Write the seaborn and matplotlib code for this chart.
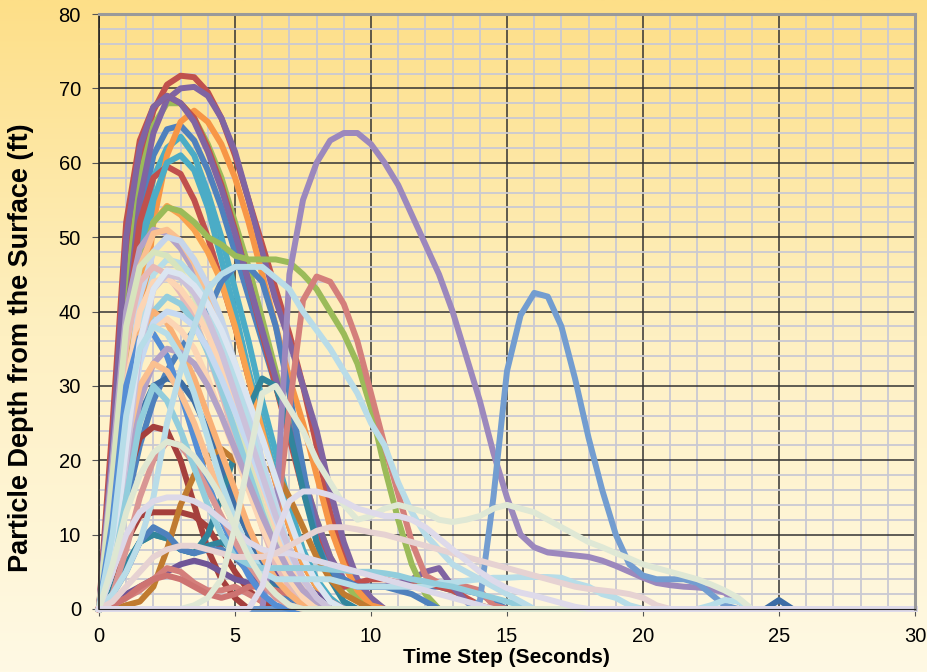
import numpy as np
import pandas as pd
import matplotlib
matplotlib.use('Agg')
import matplotlib.pyplot as plt
import seaborn as sns
from matplotlib.colors import LinearSegmentedColormap

# time steps, half a second apart
time_step = np.arange(0, 30.5, 0.5)

# particle depth (ft) at each time step; series end at 0
blue_65 = [0, 12, 35, 52, 61, 64.5, 65, 63, 59, 54, 48, 42, 36, 30, 24, 17, 11, 6, 3, 3, 3, 3, 3, 3, 3, 3, 2.5, 2.5, 2, 1, 0]
red_72 = [0, 20, 45, 60, 67, 70.5, 71.7, 71.5, 69.5, 66, 61, 55, 49, 43, 37, 30, 22, 13, 7, 3, 1, 0]
green_68 = [0, 18, 42, 58, 65, 68, 68, 66, 62.5, 58, 52, 46, 39, 32, 25, 18, 12, 7, 3.5, 1.5, 0]
purple_70 = [0, 15, 38, 55, 64, 68.5, 70, 70.2, 69, 66, 61.5, 55, 48, 41.5, 36, 30, 24, 16, 9, 4, 1.5, 0]
aqua_63 = [0, 10, 30, 48, 58, 62, 63.5, 61, 56, 50, 43, 36, 28, 21, 14, 8, 4, 1.5, 0]
orange_67 = [0, 5, 18, 35, 52, 61, 65.5, 67, 65.5, 62.5, 58, 52, 45, 38, 31, 25, 18, 11, 6, 2.5, 0.5, 0]
red_69 = [0, 25, 52, 63, 67.5, 69, 68, 66, 62, 57, 51, 44, 37, 30, 23, 16, 10, 5, 3, 3.5, 4, 4, 3.5, 3.5, 3.5, 3, 2.5, 1.5, 0.5, 0]
purple_69 = [0, 22, 50, 62, 67.5, 69, 68, 65.5, 61.5, 56.5, 50.5, 44, 37.5, 31, 24.5, 18, 12, 7, 4, 3, 3, 3, 3.5, 4, 5, 5.5, 3, 1, 0]
red_60 = [0, 15, 38, 52, 58, 59.5, 58.5, 55, 50, 44, 38, 31, 24, 17, 11, 6, 3, 1, 0]
aqua_61 = [0, 8, 26, 44, 55, 60, 61, 59, 54, 47, 40, 32, 25, 18, 12, 7, 3, 1, 0]
orange_54 = [0, 10, 28, 44, 52, 54.2, 53, 51, 48, 44, 38, 31, 24, 17, 11, 6, 3, 1, 0]
green_47 = [0, 15, 35, 46, 52, 54, 53.5, 52, 50, 49, 47.5, 47, 47, 47, 46.6, 45, 43, 40, 37, 33, 27, 19, 12, 6, 2, 0]
blue_46 = [0, 5, 14, 22, 28, 32, 35, 37.5, 40, 44, 46, 46, 44, 38, 29, 19, 9, 5, 4, 3, 3, 3, 2.5, 2, 1, 0]
steel_31 = [0, 8, 18, 26, 30, 31, 30.5, 28, 24, 19, 14, 10, 6, 3, 1, 0]
darkred_24 = [0, 6, 17, 23, 24.5, 24, 20, 14, 8, 4, 1.5, 0]
darkred_13 = [0, 3, 9, 12.5, 13, 13, 13, 12.5, 11, 8, 5, 2.5, 1, 0]
teal_31 = [0, 3, 6, 9, 10, 9.5, 8, 7.5, 10, 15, 21, 27, 31, 30, 24, 16, 9, 4, 1, 0]
teal_10 = [0, 3, 6, 9, 10, 9.5, 8, 7.5, 8.5, 9, 8, 6, 4, 2.5, 1.5, 0.5, 0]
brown_21 = [0, 0, 0.5, 1, 3, 8, 14, 18, 20.5, 21.5, 20, 19.5, 19, 18.5, 15, 11, 7, 4, 2, 1, 0]
blue_11 = [0, 2, 5, 9, 11, 10, 8, 7.5, 8, 8, 7, 5, 3, 2, 1, 0]
purple_6 = [0, 1, 2, 3, 4, 5, 6, 6.5, 6, 5, 4, 3.5, 4.5, 5, 4, 3, 2, 1, 0]
spike_25 = [0] * 49 + [0, 1.2, 0]
salmon_45 = [0, 0.5, 1.5, 2.5, 4, 5.5, 5, 3.5, 2.5, 2.5, 3, 2, 1, 11, 27, 41.5, 44.7, 44, 41, 36, 29, 22, 15.5, 9, 4.5, 3.5, 3.5, 3, 2.5, 0.5, 0]
lilac_64 = [0] * 12 + [0, 12, 45, 55, 60, 63, 64, 64, 62.5, 60, 57, 53, 49, 45, 40, 34, 28, 21, 15, 10, 8.3, 7.6, 7.4, 7.2, 7, 6.5, 5.8, 5, 4.2, 3.5, 3.2, 3, 2.9, 2.7, 2.2, 1, 0]
skyblue_43 = [0] * 27 + [0, 1, 15, 32, 39.5, 42.5, 42, 38, 31, 23, 16, 10, 6, 4.5, 4, 4, 4, 3.5, 2, 0.5, 0]
lightred_4 = [0, 0.5, 1.5, 3, 4, 4.5, 4, 3, 2, 1.5, 2, 3, 3, 2.5, 2, 1, 0.5, 0]
lavender_51 = [0, 20, 40, 48.5, 51, 50.5, 48.5, 45.5, 41.5, 36.5, 31, 25, 19, 13, 8, 4, 1.5, 0]
peach_51 = [0, 15, 35, 46, 50.5, 51, 49.5, 46.5, 42, 37, 31, 25, 19, 13, 8, 4, 1.5, 0]
paleblue_50 = [0, 10, 28, 42, 48, 50, 49.5, 47, 43.5, 39, 33, 27, 20, 14, 8, 4, 1, 0]
lightblue_47 = [0, 8, 25, 38, 45, 47, 46.5, 44.5, 41, 36.5, 31, 25, 19, 13, 8, 4, 1.5, 0]
pink_46 = [0, 18, 36, 44, 46, 45, 42.5, 39, 34.5, 29, 23, 17, 11, 6, 3, 1, 0]
palegreen_48 = [0, 18, 38, 46, 48, 47.5, 45.5, 42, 37.5, 32, 26, 20, 14, 9, 5, 2, 0.5, 0]
peach_44 = [0, 12, 30, 40, 44, 44.5, 43, 40.5, 37, 32.5, 27.5, 22, 16.5, 11, 6.5, 3, 1, 0]
lightaqua_42 = [0, 8, 22, 34, 40, 42, 41, 38.5, 34.5, 29.5, 24, 18.5, 13, 8, 4, 1.5, 0]
lightorange_40 = [0, 10, 28, 37, 40, 38.5, 35, 31, 26, 21, 16, 11, 7, 4, 2, 0.5, 0]
blue_37 = [0, 12, 30, 36.5, 37, 34, 29, 23, 17, 12, 8, 4.5, 2, 0.5, 0]
peach_39 = [0, 8, 24, 34, 38, 39, 37.5, 35, 31, 26, 21, 16, 11, 7, 4, 1.5, 0]
paleblue_40 = [0, 8, 22, 33, 38.5, 40, 39.5, 38, 35, 31, 26.5, 22, 17, 12, 7.5, 4, 1.5, 0]
lilac_35 = [0, 6, 18, 28, 33, 35, 34.5, 33, 30, 26, 21.5, 17, 12.5, 8.5, 5, 2.5, 1, 0]
peach_33 = [0, 8, 22, 30, 33, 32, 29, 25, 20, 15, 11, 7, 4, 2, 0.5, 0]
rose_23 = [0, 2, 8, 15, 20, 22.5, 22, 19.5, 16, 12.5, 9, 6, 3.5, 1.5, 0.5, 0]
lilac_45 = [0, 5, 20, 35, 43, 45, 44.5, 42.5, 39, 34.5, 29, 23.5, 18, 12.5, 8, 4, 1.5, 0]
paleblue_45 = [0, 6, 22, 36, 43, 45.5, 45, 43.5, 41, 37.5, 33, 28, 23, 17.5, 12, 7, 3.5, 1, 0]
lightblue_38 = [0, 10, 26, 35, 38, 37, 34, 29, 23, 17, 12, 8, 5, 4, 4, 4, 4, 4, 3.5, 3, 3, 3, 3, 3, 3, 3.5, 3.5, 3.8, 4, 4.2, 4.2, 4.3, 4.3, 4.3, 4.2, 3.5, 3, 2, 1.5, 0.5, 0, 0, 0, 0, 0, 0.5, 1.2, 1, 0]
aqua_5 = [0, 5, 15, 25, 30, 28, 24, 19, 14, 10, 7, 6, 5.5, 5.5, 5.5, 5.5, 5.5, 5.3, 5.2, 5, 5, 4.8, 4.5, 4, 3.7, 3.3, 3, 2.5, 2, 1.5, 1, 0.5, 0]
skyblue_46 = [0, 2, 5, 9, 15, 25, 32, 38, 43, 45, 46, 46, 46, 44.5, 43, 40, 37.5, 35, 32, 29, 25, 22, 17, 13, 10, 8, 6, 5, 4, 3, 2, 1, 0]
lavender_15 = [0, 5, 10, 13, 14.5, 15, 15, 14.5, 13.5, 12, 10.5, 9, 8, 7.5, 7.5, 7, 6.5, 6, 5.5, 5, 4.5, 4, 3.5, 3, 2.5, 2, 1.5, 1, 0.5, 0]
pink_11 = [0, 1, 3, 5, 7, 8, 8.5, 8.5, 8, 7.5, 7, 7, 7, 7.5, 8.5, 9.5, 10.5, 11, 11, 10.7, 10.3, 10, 9.5, 9, 8.5, 8, 7.5, 7, 6.5, 6, 5.5, 5, 4.5, 4, 3.5, 3, 2.7, 2.5, 2.3, 2, 1.5, 0.5, 0]
palegreen_30 = [0, 0, 0, 0, 0, 0, 0, 0.5, 1.5, 4, 11, 20, 29, 30, 27, 24, 20, 17, 14, 12, 12.5, 13.5, 14, 13.5, 13, 12, 11.7, 12, 12.5, 13.5, 14, 13.5, 13, 12, 11, 10, 9, 8.3, 7.5, 6.8, 6, 5.5, 5, 4.5, 4, 3.3, 2.5, 1.5, 0]
palegreen_22 = [0, 6, 13, 18, 21, 22.5, 22, 20.5, 18, 15, 11, 7, 4, 2, 0.5, 0]
lavender_16 = [0] * 11 + [0, 3, 10, 14.5, 15.8, 15.8, 15.3, 14.5, 13.5, 13, 12.5, 12.5, 12, 11, 9.5, 8, 6.5, 5, 3.8, 2.8, 2.2, 1.8, 1.3, 0.8, 0.3, 0]

series = [blue_65, red_72, green_68, purple_70, aqua_63, orange_67, red_69, purple_69,
          red_60, aqua_61, orange_54, green_47, blue_46, steel_31, darkred_24, darkred_13,
          teal_31, teal_10, brown_21, blue_11, purple_6, spike_25, salmon_45, lilac_64,
          skyblue_43, lightred_4, lavender_51, peach_51, paleblue_50, lightblue_47, pink_46,
          palegreen_48, peach_44, lightaqua_42, lightorange_40, blue_37, peach_39, paleblue_40,
          lilac_35, peach_33, rose_23, lilac_45, paleblue_45, lightblue_38, aqua_5, skyblue_46,
          lavender_15, pink_11, palegreen_30, palegreen_22, lavender_16]
colors = ['#4F81BD', '#C0504D', '#9BBB59', '#8064A2', '#4BACC6', '#F79646', '#C0504D', '#8064A2',
          '#C0504D', '#4BACC6', '#F9A24E', '#9BBB59', '#4F81BD', '#3E6FA6', '#A5403D', '#A5403D',
          '#31859C', '#31859C', '#C07B30', '#4F81BD', '#6F5597', '#3D6DA5', '#D47F7B', '#9C88BD',
          '#739DD0', '#CD7371', '#B3A2C7', '#FAC090', '#C6D5EA', '#B7DDE8', '#E6B9B8',
          '#D7E4BD', '#FCD5B4', '#93CDDD', '#F9B075', '#558ED5', '#FBD5B5', '#C6D9F1',
          '#B3A2C7', '#FAC090', '#D99694', '#CCC1DA', '#DBE5F1', '#B7DDE8', '#92CDDC', '#B9DCE8',
          '#DCD8E8', '#E6D2D2', '#DFE8D5', '#DEE7D2', '#DEDAEA']

rows = []
for i, vals in enumerate(series):
    full = list(vals) + [0] * (len(time_step) - len(vals))
    for t, d in zip(time_step, full):
        rows.append((i, t, d))
df = pd.DataFrame(rows, columns=['particle', 'time', 'depth'])

plt.rcParams['font.family'] = ['Liberation Sans', 'DejaVu Sans']
fig = plt.figure(figsize=(9.28, 6.72), dpi=100)

# yellow-to-cream background
bg = fig.add_axes([0, 0, 1, 1], zorder=-1)
cmap = LinearSegmentedColormap.from_list('bg', ['#FFF9E4', '#FEF0C2', '#FDDF88'])
bg.imshow(np.linspace(0, 1, 256).reshape(-1, 1), aspect='auto', cmap=cmap, origin='lower',
          extent=[0, 1, 0, 1])
bg.axis('off')

ax = fig.add_axes([99 / 928, 63 / 672, 816 / 928, 595 / 672])
ax.set_facecolor('none')
sns.lineplot(data=df, x='time', y='depth', hue='particle', palette=colors, legend=False,
             linewidth=4.3, sort=False, estimator=None, ax=ax)
for ln in ax.lines:
    ln.set_clip_on(False)
    ln.set_solid_joinstyle('round')

ax.set_xlim(0, 30)
ax.set_ylim(0, 80)
ax.set_xticks(range(0, 31, 5))
ax.set_xticks(range(0, 31, 1), minor=True)
ax.set_yticks(range(0, 81, 10))
ax.set_yticks(range(0, 81, 2), minor=True)
ax.set_axisbelow(True)
ax.grid(which='minor', color='#C9C9D3', linewidth=1.3)
ax.grid(which='major', color='#333333', linewidth=1.1)
ax.tick_params(which='minor', length=0)
ax.tick_params(which='major', length=5, color='#555555', labelsize=14.5, pad=8)

for side in ['top', 'right']:
    ax.spines[side].set_color('#9A9A9A')
    ax.spines[side].set_linewidth(2.2)
ax.spines['left'].set_color('#222222')
ax.spines['left'].set_linewidth(1.2)
ax.spines['bottom'].set_color('#222222')

ax.set_xlabel('Time Step (Seconds)', fontsize=15, fontweight='bold')
ax.set_ylabel('Particle Depth from the Surface (ft)', fontsize=19.5, fontweight='bold')
ax.xaxis.set_label_coords(0.499, -0.066)
ax.yaxis.set_label_coords(-0.080, 0.44)

fig.savefig('out.png', dpi=100)
